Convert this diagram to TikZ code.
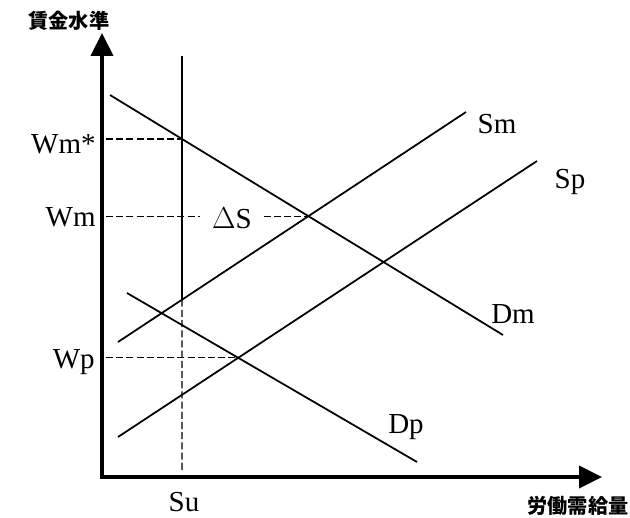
\documentclass[tikz,border=0pt]{standalone}
\usepackage{fontspec}
\setmainfont{Liberation Serif}
\newfontfamily\cjk{Noto Sans CJK JP}
\usetikzlibrary{arrows.meta, intersections, calc}
\tikzset{
  axis/.style={line width=2.2pt, {Triangle[width=12.5pt,length=13pt]}-{Triangle[width=12.5pt,length=13pt]}},
  curve/.style={line width=1pt},
  guide/.style={line width=0.6pt, dash pattern=on 4pt off 1.8pt},
  lab/.style={font=\fontsize{16.5}{18}\selectfont, inner sep=0pt},
  axlab/.style={font=\cjk\bfseries\fontsize{11.5}{13}\selectfont, inner sep=0pt},
}

\begin{document}
\begin{tikzpicture}[x=0.02cm, y=-0.02cm]
  \useasboundingbox (0,0) rectangle (630,518);
  % axes
  \coordinate (O) at (102,477);
  \coordinate (ytip) at (102,33);
  \coordinate (xtip) at (602,477);
  \coordinate (yx) at (106,477);
  \draw[axis] (ytip) -- (O) -- (xtip);
  \node[axlab] (ylab) at (69,21) {賃金水準};
  \node[axlab] (xlab) at (578,506) {労働需給量};
  % curves
  \coordinate (dm1) at (110,95);  \coordinate (dm2) at (503,335);
  \coordinate (sm1) at (118,342); \coordinate (sm2) at (466,112);
  \coordinate (sp1) at (118,437); \coordinate (sp2) at (537,161);
  \coordinate (dp1) at (127,293); \coordinate (dp2) at (417,462);
  \coordinate (su1) at (182,56);  \coordinate (su2) at (182,470);
  \draw[curve, name path=dm] (dm1) -- (dm2);
  \draw[curve, name path=sm] (sm1) -- (sm2);
  \draw[curve, name path=sp] (sp1) -- (sp2);
  \draw[curve, name path=dp] (dp1) -- (dp2);
  \path[name path=su] (su1) -- (su2);
  \path[name intersections={of=dm and sm, by=em}];
  \path[name intersections={of=dp and sp, by=ep}];
  \path[name intersections={of=dm and su, by=ws}];
  \path[name intersections={of=sm and su, by=us}];
  \draw[curve] (su1) -- (us);
  \draw[guide] (us) -- (su2);
  % levels
  \node[lab, inner xsep=6.5pt] (ds) at (232,218) {$\Delta$S};
  \draw[guide] (yx |- ws) -- (ws);
  \draw[guide] (yx |- em) -- (ds.west |- em);
  \draw[guide] (ds.east |- em) -- (em);
  \draw[guide] (yx |- ep) -- (ep);
  % labels
  \node[lab, anchor=east] (wms) at (96,144) {Wm*};
  \node[lab, anchor=east] (wm) at (96,217) {Wm};
  \node[lab, anchor=east] (wp) at (95,362) {Wp};
  \node[lab] (su) at (184,502) {Su};
  \node[lab] (sm) at (497,124) {Sm};
  \node[lab] (sp) at (570,182) {Sp};
  \node[lab] (dm) at (513,314) {Dm};
  \node[lab] (dp) at (406,427) {Dp};
\end{tikzpicture}
\end{document}
